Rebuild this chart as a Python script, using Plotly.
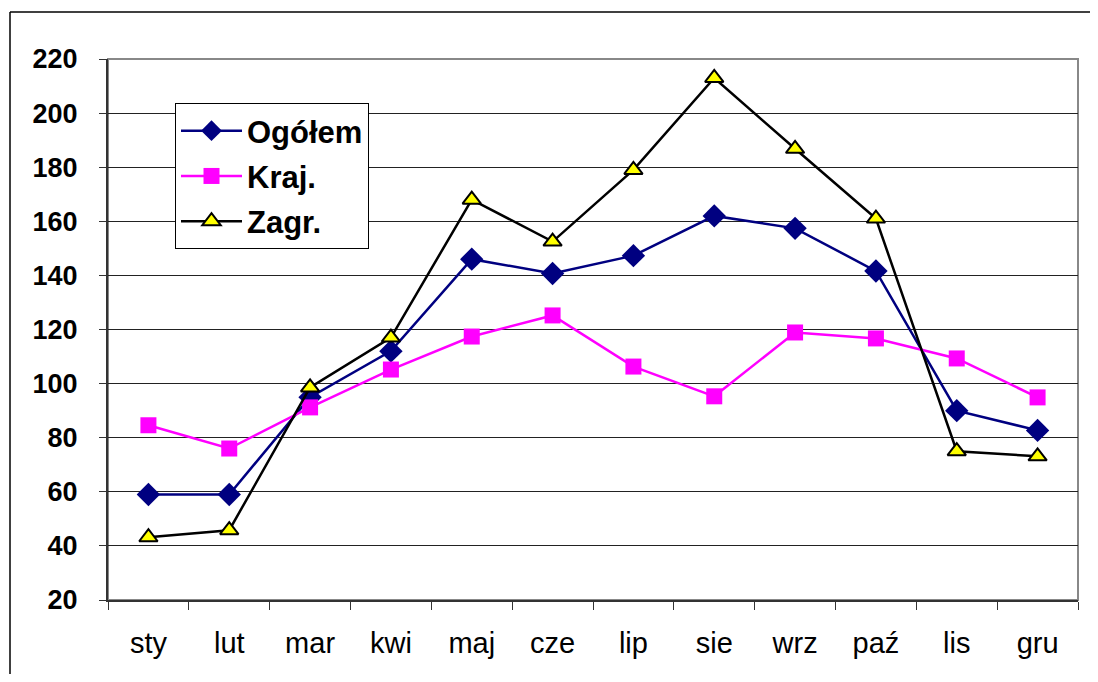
import plotly.graph_objects as go

months = ["sty", "lut", "mar", "kwi", "maj", "cze", "lip", "sie", "wrz", "paź", "lis", "gru"]
ogolem = [59, 59, 95, 112, 146, 140.7, 147.3, 162, 157.4, 141.6, 90, 82.7]
kraj = [84.6, 76, 91.2, 105.2, 117.4, 125.2, 106.3, 95.3, 118.9, 116.7, 109.3, 94.9]
zagr = [43.2, 45.8, 98.6, 117, 168, 152.5, 179, 213, 186.8, 161, 75, 73.1]
y_ticks = list(range(20, 221, 20))

OFF = 8  # page body margin
W, H = 1098 - 2 * OFF, 682 - 2 * OFF
L, R, T, B = 108 - OFF, 1078 - OFF, 59 - OFF, 600 - OFF
pw, ph = R - L, B - T

def px(x):
    return (x - OFF - L) / pw

def py(y):
    return (B - (y - OFF)) / ph

fig = go.Figure()
fig.add_trace(go.Scatter(x=months, y=ogolem, name="Ogółem", mode="lines+markers",
                         legendgroup="a",
                         line=dict(color="#000080", width=2.5),
                         marker=dict(symbol="diamond", size=18, color="#000080")))
fig.add_trace(go.Scatter(x=months, y=kraj, name="Kraj.", mode="lines+markers",
                         legendgroup="b",
                         line=dict(color="#FF00FF", width=2.5),
                         marker=dict(symbol="square", size=16, color="#FF00FF")))
fig.add_trace(go.Scatter(x=months, y=zagr, name="Zagr.", mode="lines+markers",
                         legendgroup="c",
                         line=dict(color="#000000", width=2.5),
                         marker=dict(symbol="triangle-up", size=16, color="#FFFF00",
                                     line=dict(color="#000000", width=2))))

fig.update_layout(
    width=W, height=H,
    margin=dict(l=L, r=W - R, t=T, b=H - B),
    paper_bgcolor="white", plot_bgcolor="white",
    font=dict(family="Arial, Liberation Sans, sans-serif", color="black"),
    showlegend=True,
    legend=dict(x=px(175), y=py(103), xanchor="left", yanchor="top",
                bgcolor="white", bordercolor="black", borderwidth=1,
                font=dict(size=31, family="Arial, Liberation Sans, sans-serif", weight="bold"),
                tracegroupgap=2, itemwidth=61),
    xaxis=dict(type="category", range=[-0.5, 11.5], showgrid=False,
               showline=True, linecolor="#333333", linewidth=2,
               ticks="outside", ticklen=8, tickcolor="#333333", tickwidth=1,
               tickson="boundaries", tickfont=dict(size=29), ticklabelstandoff=16),
    yaxis=dict(range=[20, 220], tickvals=y_ticks, showgrid=True, gridcolor="#222222",
               gridwidth=1, zeroline=False,
               showline=True, linecolor="#333333", linewidth=2,
               ticks="outside", ticklen=7, tickcolor="#333333", tickwidth=1,
               tickfont=dict(size=27, weight="bold"), ticklabelstandoff=16),
    shapes=[
        dict(type="rect", xref="paper", yref="paper", x0=0, y0=0, x1=1, y1=1,
             line=dict(color="#888888", width=2), layer="below"),
        dict(type="line", xref="paper", yref="paper", x0=px(10), y0=py(12), x1=px(1098), y1=py(12),
             line=dict(color="black", width=1.5), layer="below"),
        dict(type="line", xref="paper", yref="paper", x0=px(10), y0=py(12), x1=px(10), y1=py(682),
             line=dict(color="black", width=1.5), layer="below"),
    ],
)

fig.write_html("out.html")
